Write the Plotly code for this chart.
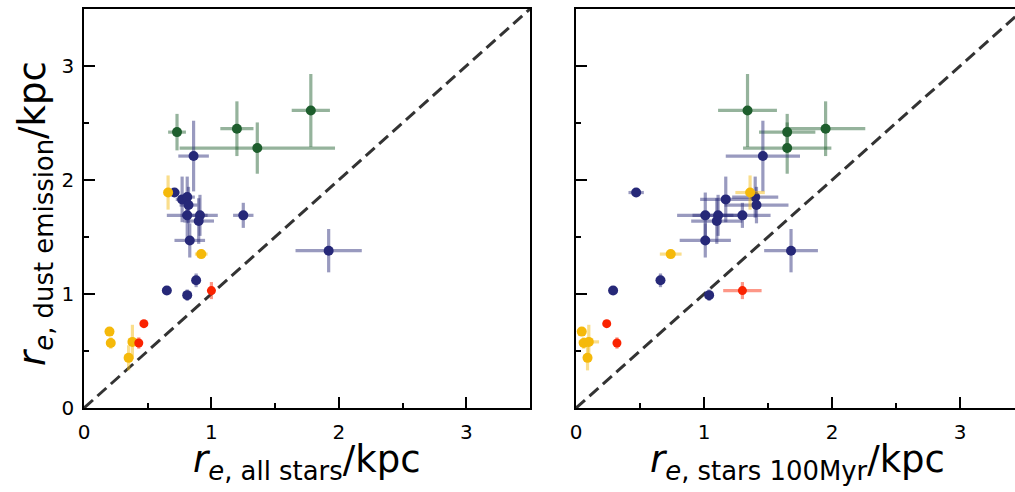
import plotly.graph_objects as go

# ---------------- data ----------------
# shared y: dust-emission effective radius (kpc)
green_y    = [2.42, 2.45, 2.28, 2.61]
green_yerr = [0.16, 0.24, 0.225, 0.32]
green_x_all     = [0.73, 1.20, 1.36, 1.78]
green_xerr_all  = [0.07, 0.13, 0.61, 0.15]
green_x_young   = [1.65, 1.95, 1.65, 1.34]
green_xerr_young= [0.22, 0.31, 0.345, 0.23]

blue_y    = [2.21, 1.89, 1.83, 1.85, 1.78, 1.69, 1.69, 1.69, 1.64, 1.47, 1.38, 1.12, 1.03, 0.99]
blue_yerr = [0.31, 0.03, 0.20, 0.18, 0.16, 0.20, 0.18, 0.11, 0.20, 0.15, 0.19, 0.06, 0.0, 0.05]
blue_x_all      = [0.86, 0.71, 0.77, 0.81, 0.82, 0.81, 0.91, 1.25, 0.90, 0.83, 1.92, 0.88, 0.65, 0.81]
blue_xerr_all   = [0.12, 0.04, 0.05, 0.06, 0.07, 0.16, 0.14, 0.08, 0.12, 0.12, 0.26, 0.0, 0.0, 0.0]
blue_x_young    = [1.46, 0.47, 1.17, 1.40, 1.41, 1.01, 1.11, 1.30, 1.10, 1.01, 1.68, 0.66, 0.29, 1.04]
blue_xerr_young = [0.29, 0.06, 0.20, 0.18, 0.25, 0.22, 0.20, 0.22, 0.20, 0.20, 0.21, 0.0, 0.0, 0.03]

yellow_y    = [1.89, 1.35, 0.67, 0.57, 0.58, 0.44]
yellow_yerr = [0.15, 0.02, 0.03, 0.05, 0.15, 0.11]
yellow_x_all      = [0.66, 0.92, 0.20, 0.21, 0.38, 0.35]
yellow_xerr_all   = [0.02, 0.05, 0.0, 0.0, 0.0, 0.0]
yellow_x_young    = [1.36, 0.74, 0.045, 0.06, 0.10, 0.09]
yellow_xerr_young = [0.115, 0.085, 0.0, 0.0, 0.08, 0.0]

red_y    = [1.03, 0.74, 0.57]
red_yerr = [0.075, 0.02, 0.05]
red_x_all      = [1.00, 0.47, 0.43]
red_xerr_all   = [0.03, 0.0, 0.0]
red_x_young    = [1.30, 0.24, 0.32]
red_xerr_young = [0.15, 0.0, 0.0]

one_to_one = [0, 3.5]

x_ticks = [0, 1, 2, 3]
y_ticks = [0, 1, 2, 3]

# ---------------- style ----------------
groups = [
    ("#1e5e2d", "rgba(30,94,45,0.47)", 10, green_y, green_yerr, green_x_all, green_xerr_all, green_x_young, green_xerr_young),
    ("#262878", "rgba(38,40,120,0.47)", 10, blue_y, blue_yerr, blue_x_all, blue_xerr_all, blue_x_young, blue_xerr_young),
    ("#f5b90a", "rgba(245,185,10,0.47)", 10, yellow_y, yellow_yerr, yellow_x_all, yellow_xerr_all, yellow_x_young, yellow_xerr_young),
    ("#fa2300", "rgba(250,35,0,0.47)", 9, red_y, red_yerr, red_x_all, red_xerr_all, red_x_young, red_xerr_young),
]

fig = go.Figure()

for ax, ay in [("x", "y"), ("x2", "y2")]:
    fig.add_trace(go.Scatter(x=one_to_one, y=one_to_one, mode="lines", xaxis=ax, yaxis=ay,
                             line=dict(color="#333333", width=3, dash="12px,6px"),
                             showlegend=False, hoverinfo="skip"))

for col, ecol, ms, y, yerr, xa, xea, xy, xey in groups:
    for ax, ay, xv, xe in [("x", "y", xa, xea), ("x2", "y2", xy, xey)]:
        fig.add_trace(go.Scatter(
            x=xv, y=y, mode="markers", xaxis=ax, yaxis=ay,
            marker=dict(color=col, size=ms, line=dict(width=0)),
            error_x=dict(type="data", array=xe, color=ecol, thickness=3.2, width=0),
            error_y=dict(type="data", array=yerr, color=ecol, thickness=3.2, width=0),
            showlegend=False, cliponaxis=True))

W, H = 1015, 492
x1d = [84 / W, 530 / W]
x2d = [576 / W, 1.0]
yd = [1 - 408 / H, 1 - 9 / H]

tickfont = dict(family="DejaVu Sans", size=20, color="black")
common_x = dict(ticks="inside", ticklen=11, tickwidth=2, tickcolor="black",
                showline=True, linecolor="black", linewidth=1.5, mirror=True,
                tickvals=x_ticks, showgrid=False, zeroline=False, tickfont=tickfont,
                automargin=False, ticklabelstandoff=5,
                minor=dict(ticks="inside", ticklen=5, tickwidth=1.5, tickcolor="black",
                           dtick=0.5, tick0=0, showgrid=False),
                fixedrange=True)
common_y = dict(ticks="inside", ticklen=11, tickwidth=2, tickcolor="black",
                showline=True, linecolor="black", linewidth=1.5,
                tickvals=y_ticks, showgrid=False, zeroline=False, tickfont=tickfont,
                range=[0, 3.5], automargin=False, ticklabelstandoff=4,
                minor=dict(ticks="inside", ticklen=5, tickwidth=1.5, tickcolor="black",
                           dtick=0.5, tick0=0, showgrid=False),
                fixedrange=True)

fig.update_layout(
    width=W, height=H,
    margin=dict(l=0, r=0, t=0, b=0, pad=0, autoexpand=False),
    paper_bgcolor="white", plot_bgcolor="white",
    font=dict(family="DejaVu Sans", color="black"),
    xaxis=dict(domain=x1d, range=[0, 3.5], anchor="y", **common_x),
    yaxis=dict(domain=yd, anchor="x", mirror=True, **common_y),
    xaxis2=dict(domain=x2d, range=[0, 439 / 128], anchor="y2", **common_x),
    yaxis2=dict(domain=yd, anchor="x2", mirror=False, showticklabels=False, **common_y),
)

title_font = dict(family="DejaVu Sans", size=37, color="black")
fig.add_annotation(text="<i>r</i><sub><i>e</i>, all stars</sub>/kpc", xref="paper", yref="paper",
                   x=306 / W, y=1 - 462 / H, showarrow=False, font=title_font,
                   xanchor="center", yanchor="middle")
fig.add_annotation(text="<i>r</i><sub><i>e</i>, stars 100Myr</sub>/kpc", xref="paper", yref="paper",
                   x=797 / W, y=1 - 462 / H, showarrow=False, font=title_font,
                   xanchor="center", yanchor="middle")
fig.add_annotation(text="<i>r</i><sub><i>e</i>, dust emission</sub>/kpc", xref="paper", yref="paper",
                   x=35 / W, y=1 - 214 / H, showarrow=False, font=title_font, textangle=-90,
                   xanchor="center", yanchor="middle")

fig.write_html("out.html")
